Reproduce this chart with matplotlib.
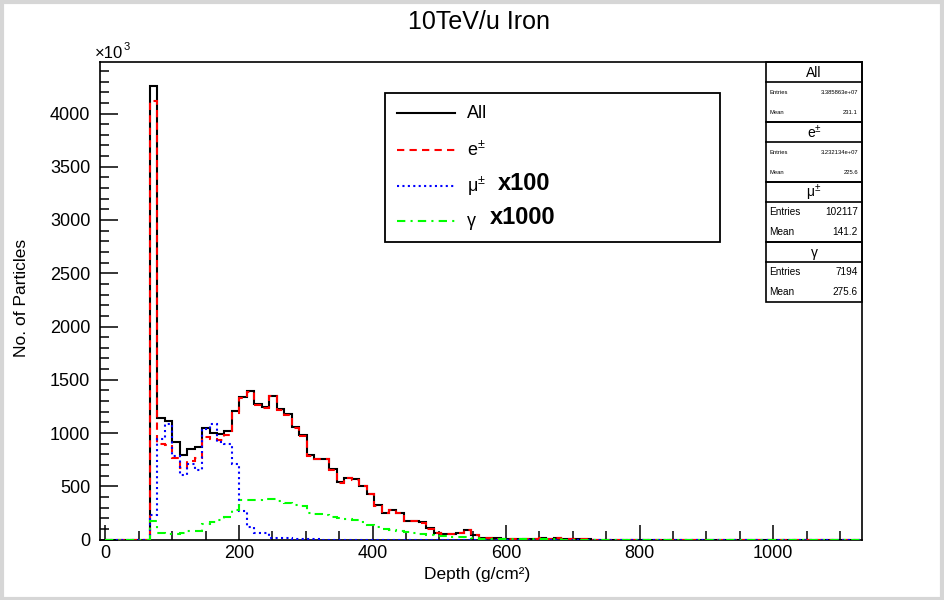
import numpy as np
import matplotlib
matplotlib.use("Agg")
import matplotlib.pyplot as plt
from matplotlib.ticker import MultipleLocator
from matplotlib.patches import Rectangle
from matplotlib.lines import Line2D

plt.rcParams['font.family'] = ['Liberation Sans', 'DejaVu Sans']
plt.rcParams['mathtext.fontset'] = 'custom'
plt.rcParams['mathtext.rm'] = 'Liberation Sans'
plt.rcParams['mathtext.it'] = 'Liberation Sans:italic'
plt.rcParams['mathtext.bf'] = 'Liberation Sans:bold'

# ---------------- data (values in units of 10^3 particles) ----------------
n_bins = 101
bin_width = 11.2
first_edge = -1.0

all_counts = [0, 0, 0, 0, 0, 0, 4257, 1139, 1114, 914, 789, 851, 867, 1049, 1003,
              988, 1020, 1208, 1340, 1393, 1272, 1243, 1352, 1230, 1180, 1060, 980,
              795, 760, 760, 660, 538, 579, 568, 503, 429, 322, 252, 279, 250, 176,
              174, 160, 105, 65, 55, 55, 62, 90, 40, 16, 12, 10, 8, 7, 6, 5, 5, 18,
              4, 14, 3, 2, 2, 1]
e_counts = [0, 0, 0, 0, 0, 0, 4122, 898, 883, 765, 672, 735, 767, 961, 945, 936,
            977, 1190, 1325, 1384, 1259, 1233, 1345, 1220, 1172, 1050, 972, 786,
            752, 752, 652, 532, 573, 562, 498, 424, 318, 248, 275, 246, 173, 171,
            157, 102, 63, 53, 53, 60, 88, 38, 15, 11, 9, 7, 6, 5, 4, 4, 17, 3, 13,
            2, 1, 1, 1]
mu_counts_x100 = [0, 0, 0, 0, 0, 0, 230, 945, 1086, 780, 610, 711, 648, 1039, 1086,
                  914, 898, 711, 272, 116, 60, 60, 12, 12, 12, 5, 5, 3, 2]
gamma_counts_x1000 = [0, 0, 0, 0, 0, 0, 175, 65, 55, 55, 58, 80, 82, 150, 160, 180,
                      210, 275, 375, 373, 375, 382, 382, 362, 345, 328, 315, 247,
                      241, 232, 210, 205, 194, 180, 165, 140, 115, 102, 92, 84, 69,
                      59, 53, 38, 30, 30, 28, 28, 26, 16, 8, 6, 5, 4, 3, 3, 2, 2, 2,
                      2, 2]

x_ticks = [0, 200, 400, 600, 800, 1000]
y_ticks = [0, 500, 1000, 1500, 2000, 2500, 3000, 3500, 4000]

stats_titles = ["All", "e$^{\\pm}$", "\u03bc$^{\\pm}$", "\u03b3"]
stats_entries = ["3.385863e+07", "3.232134e+07", "102117", "7194"]
stats_means = ["231.1", "225.6", "141.2", "275.6"]


def pad(vals):
    v = np.zeros(n_bins)
    v[:len(vals)] = vals
    return v


edges = first_edge + bin_width * np.arange(n_bins + 1)

# ---------------- figure ----------------
W, H = 944, 600
fig = plt.figure(figsize=(W / 100, H / 100), dpi=100)
fig.patch.set_facecolor('white')

ax_left, ax_right, ax_top, ax_bot = 100, 862, 62, 539.5
ax = fig.add_axes([ax_left / W, 1 - ax_bot / H, (ax_right - ax_left) / W,
                   (ax_bot - ax_top) / H])

ax.stairs(pad(all_counts), edges, color='black', lw=1.5, zorder=3)
ax.stairs(pad(e_counts), edges, color='#ff0000', lw=1.5,
          linestyle=(0, (3.5, 2.5)), zorder=4)
ax.stairs(pad(mu_counts_x100), edges, color='#0000ff', lw=1.5,
          linestyle=(0, (1, 1.6)), zorder=5)
ax.stairs(pad(gamma_counts_x1000), edges, color='#00ff00', lw=1.5,
          linestyle=(0, (4, 2.5, 1, 2.5)), zorder=6)

ax.set_xlim(-8.2, 1133)
ax.set_ylim(0, (ax_bot - ax_top) / 0.1065)
ax.set_xticks(x_ticks)
ax.set_yticks(y_ticks)
ax.xaxis.set_minor_locator(MultipleLocator(50))
ax.yaxis.set_minor_locator(MultipleLocator(100))
ax.tick_params(axis='x', which='major', direction='in', length=11, width=1.1,
               labelsize=13, pad=4, top=False)
ax.tick_params(axis='x', which='minor', direction='in', length=6.5, width=1.1,
               top=False)
ax.tick_params(axis='y', which='major', direction='in', length=13, width=1.1,
               labelsize=13, pad=7, right=False)
ax.tick_params(axis='y', which='minor', direction='in', length=6.5, width=1.1,
               right=False)
for s in ax.spines.values():
    s.set_linewidth(1.2)

# ---------------- overlay in pixel coordinates ----------------
ov = fig.add_axes([0, 0, 1, 1], zorder=10)
ov.set_xlim(0, W)
ov.set_ylim(H, 0)
ov.axis('off')
ov.patch.set_alpha(0)

# grey canvas frame
ov.add_patch(Rectangle((1.5, 1.5), W - 4, H - 3, fill=False, ec='#d6d6d6', lw=3))

# title and axis labels
ov.text(479, 22, "10TeV/u Iron", fontsize=18, ha='center', va='center')
ov.text(477, 574, "Depth (g/cm\u00b2)", fontsize=12.5, ha='center', va='center')
ov.text(22, 298, "No. of Particles", fontsize=12.5, ha='center', va='center',
        rotation=90)
ov.text(95, 54, "\u00d710", fontsize=12, ha='left', va='center')
ov.text(124, 47, "3", fontsize=8, ha='left', va='center')

# legend
ov.add_patch(Rectangle((385, 93), 335, 149, fill=False, ec='black', lw=1.3))
leg_y = [113, 150, 186, 221]
leg_styles = [dict(color='black', ls='-'),
              dict(color='#ff0000', ls=(0, (3.5, 2.5))),
              dict(color='#0000ff', ls=(0, (1, 1.6))),
              dict(color='#00ff00', ls=(0, (4, 2.5, 1, 2.5)))]
for y, st in zip(leg_y, leg_styles):
    ov.add_line(Line2D([397, 455], [y, y], lw=1.5, **st))
ov.text(467, leg_y[0], "All", fontsize=13, ha='left', va='center')
ov.text(467, leg_y[1], "e$^{\\pm}$", fontsize=13, ha='left', va='center')
ov.text(467, leg_y[2], "\u03bc$^{\\pm}$", fontsize=13, ha='left', va='center')
ov.text(498, leg_y[2] - 2, "x100", fontsize=17, fontweight='bold', ha='left',
        va='center')
ov.text(467, leg_y[3], "\u03b3", fontsize=13, ha='left', va='center')
ov.text(490, leg_y[3] - 4, "x1000", fontsize=17, fontweight='bold', ha='left',
        va='center')

# stats boxes
sx0, sx1 = 766, 862
block_h, title_h = 60, 20
for i in range(4):
    top = 62 + i * block_h
    ov.add_patch(Rectangle((sx0, top), sx1 - sx0, block_h, fill=False,
                           ec='black', lw=1.2))
    ov.add_line(Line2D([sx0, sx1], [top + title_h, top + title_h], color='black',
                       lw=1.2))
    ov.text((sx0 + sx1) / 2, top + title_h / 2 + 1, stats_titles[i], fontsize=10,
            ha='center', va='center')
    fs = 4.2 if i < 2 else 7.2
    ov.text(sx0 + 3, top + title_h + 10, "Entries", fontsize=fs, ha='left',
            va='center')
    ov.text(sx1 - 4, top + title_h + 10, stats_entries[i], fontsize=fs,
            ha='right', va='center')
    ov.text(sx0 + 3, top + title_h + 30, "Mean", fontsize=fs, ha='left',
            va='center')
    ov.text(sx1 - 4, top + title_h + 30, stats_means[i], fontsize=fs,
            ha='right', va='center')

fig.savefig("out.png", dpi=100)
